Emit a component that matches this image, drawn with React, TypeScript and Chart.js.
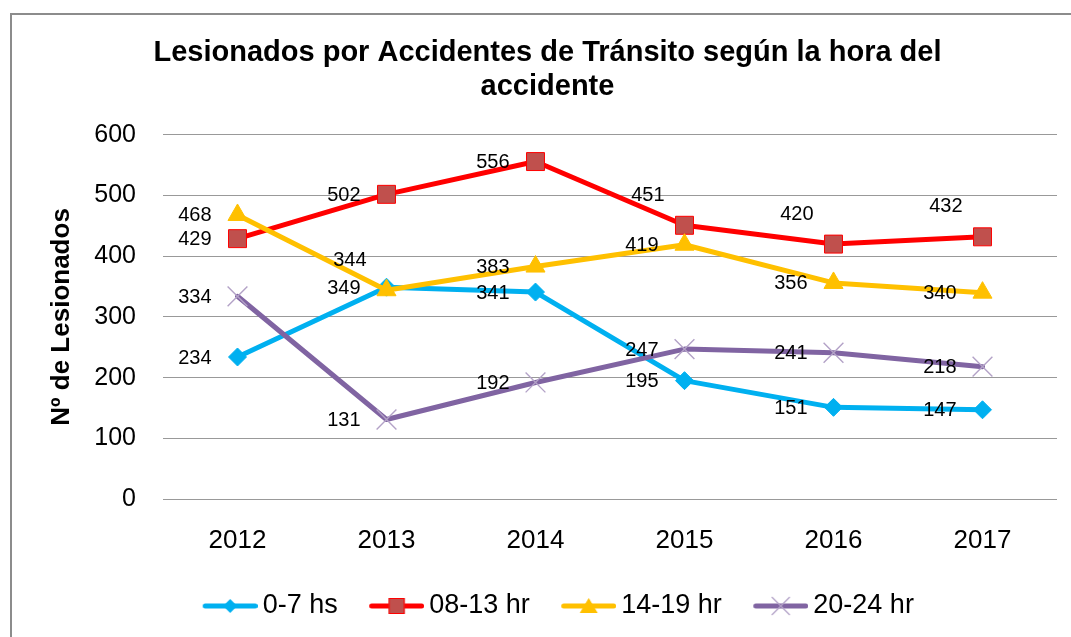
import { useEffect, useRef } from 'react';
import { Chart, registerables } from 'chart.js';

Chart.register(...registerables);

// ---- data ----
const years = ['2012', '2013', '2014', '2015', '2016', '2017'];
const h0to7 = [234, 349, 341, 195, 151, 147];
const h8to13 = [429, 502, 556, 451, 420, 432];
const h14to19 = [468, 344, 383, 419, 356, 340];
const h20to24 = [334, 131, 192, 247, 241, 218];
const seriesNames = ['0-7 hs', '08-13 hr', '14-19 hr', '20-24 hr'];
const titleLines = ['Lesionados por Accidentes de Tránsito según la hora del', 'accidente'];
const yAxisTitle = 'Nº de Lesionados';
const yMin = 0;
const yMax = 600;
const yStep = 100;

// labels that sit above-left of their point instead of left: [series, point]
const raisedLabels: [number, number][] = [[2, 1], [1, 3], [1, 4], [1, 5]];

const FONT = 'Arial, "Liberation Sans", sans-serif';

const colors = {
  blue: '#00B0F0',
  red: '#FF0000',
  redFill: '#C0504D',
  yellow: '#FFC000',
  purple: '#8064A2',
  purpleMarker: '#B3A2C7',
};

function legendSymbol(kind: string, lineColor: string): HTMLCanvasElement {
  const c = document.createElement('canvas');
  c.width = 85;
  c.height = 28;
  const ctx = c.getContext('2d')!;
  const y = 14;
  const x0 = 30;
  const x1 = 85;
  ctx.lineCap = 'round';
  ctx.strokeStyle = lineColor;
  ctx.lineWidth = 5;
  ctx.beginPath();
  ctx.moveTo(x0 + 2.5, y);
  ctx.lineTo(x1 - 2.5, y);
  ctx.stroke();
  const cx = (x0 + x1) / 2;
  ctx.lineCap = 'butt';
  if (kind === 'diamond') {
    ctx.fillStyle = colors.blue;
    ctx.beginPath();
    ctx.moveTo(cx - 7, y);
    ctx.lineTo(cx, y - 7);
    ctx.lineTo(cx + 7, y);
    ctx.lineTo(cx, y + 7);
    ctx.closePath();
    ctx.fill();
  } else if (kind === 'square') {
    ctx.fillStyle = colors.redFill;
    ctx.fillRect(cx - 8, y - 8, 16, 16);
    ctx.strokeStyle = colors.red;
    ctx.lineWidth = 1;
    ctx.strokeRect(cx - 8 + 0.5, y - 8 + 0.5, 15, 15);
  } else if (kind === 'triangle') {
    ctx.fillStyle = colors.yellow;
    ctx.beginPath();
    ctx.moveTo(cx, y - 8);
    ctx.lineTo(cx + 9, y + 7);
    ctx.lineTo(cx - 9, y + 7);
    ctx.closePath();
    ctx.fill();
  } else {
    ctx.strokeStyle = colors.purpleMarker;
    ctx.lineWidth = 1.3;
    ctx.beginPath();
    ctx.moveTo(cx - 9, y - 9);
    ctx.lineTo(cx + 9, y + 9);
    ctx.moveTo(cx + 9, y - 9);
    ctx.lineTo(cx - 9, y + 9);
    ctx.stroke();
  }
  return c;
}

const pointLabelPlugin = {
  id: 'pointLabels',
  afterDatasetsDraw(chart: any) {
    const ctx = chart.ctx;
    ctx.save();
    ctx.font = `20px ${FONT}`;
    ctx.fillStyle = '#000';
    ctx.textAlign = 'right';
    ctx.textBaseline = 'middle';
    chart.data.datasets.forEach((ds: any, di: number) => {
      const meta = chart.getDatasetMeta(di);
      meta.data.forEach((pt: any, i: number) => {
        const raised = raisedLabels.some(([a, b]) => a === di && b === i);
        const dx = raised ? 20 : 26;
        const dy = raised ? -30 : 1;
        ctx.fillText(String(ds.data[i]), pt.x - dx, pt.y + dy);
      });
    });
    ctx.restore();
  },
};

export default function App() {
  const ref = useRef<HTMLCanvasElement | null>(null);

  useEffect(() => {
    if (!ref.current) return;
    const legendImgs = [
      legendSymbol('diamond', colors.blue),
      legendSymbol('square', colors.red),
      legendSymbol('triangle', colors.yellow),
      legendSymbol('cross', colors.purple),
    ];
    const common = {
      borderWidth: 5,
      tension: 0,
      fill: false,
      borderJoinStyle: 'round' as const,
      borderCapStyle: 'round' as const,
    };
    const chart = new Chart(ref.current, {
      type: 'line',
      data: {
        labels: years,
        datasets: [
          {
            ...common,
            label: seriesNames[0],
            data: h0to7,
            borderColor: colors.blue,
            backgroundColor: colors.blue,
            pointStyle: 'rectRot',
            pointRadius: 9,
            pointBackgroundColor: colors.blue,
            pointBorderColor: colors.blue,
            pointBorderWidth: 1,
            order: 4,
          },
          {
            ...common,
            label: seriesNames[1],
            data: h8to13,
            borderColor: colors.red,
            backgroundColor: colors.redFill,
            pointStyle: 'rect',
            pointRadius: 12.7,
            pointBackgroundColor: colors.redFill,
            pointBorderColor: colors.red,
            pointBorderWidth: 1,
            order: 3,
          },
          {
            ...common,
            label: seriesNames[2],
            data: h14to19,
            borderColor: colors.yellow,
            backgroundColor: colors.yellow,
            pointStyle: 'triangle',
            pointRadius: 11,
            pointBackgroundColor: colors.yellow,
            pointBorderColor: colors.yellow,
            pointBorderWidth: 1,
            order: 2,
          },
          {
            ...common,
            label: seriesNames[3],
            data: h20to24,
            borderColor: colors.purple,
            backgroundColor: colors.purple,
            pointStyle: 'crossRot',
            pointRadius: 14,
            pointBorderColor: colors.purpleMarker,
            pointBorderWidth: 1.4,
            order: 1,
          },
        ],
      },
      options: {
        responsive: false,
        animation: false,
        devicePixelRatio: 1,
        layout: { padding: { left: 0, right: 0, top: 0, bottom: 7.5 } },
        font: { family: FONT },
        scales: {
          x: {
            type: 'category',
            offset: true,
            grid: { display: false, drawTicks: false },
            border: { display: false },
            ticks: {
              color: '#000',
              font: { family: FONT, size: 26 },
              padding: 26,
              maxRotation: 0,
            },
            afterFit: (s: any) => {
              s.height = 83.5;
            },
          },
          y: {
            type: 'linear',
            min: yMin,
            max: yMax,
            grid: { color: '#999999', lineWidth: 1, drawTicks: false },
            border: { display: false },
            ticks: {
              stepSize: yStep,
              color: '#000',
              font: { family: FONT, size: 25 },
              padding: 27,
            },
            title: {
              display: true,
              text: yAxisTitle,
              color: '#000',
              font: { family: FONT, size: 26, weight: 'bold' },
              padding: { top: 46, bottom: 0 },
            },
            afterFit: (s: any) => {
              s.width = 163;
            },
          },
          yRight: {
            type: 'linear',
            position: 'right',
            display: true,
            grid: { display: false, drawTicks: false },
            border: { display: false },
            ticks: { display: false },
            afterFit: (s: any) => {
              s.width = 38;
            },
          },
        },
        plugins: {
          title: {
            display: true,
            text: titleLines,
            color: '#000',
            font: { family: FONT, size: 29, weight: 'bold', lineHeight: 1.17 },
            padding: { top: 36, bottom: 31 },
          },
          legend: {
            display: true,
            position: 'bottom',
            labels: {
              usePointStyle: true,
              pointStyleWidth: 68,
              padding: 10,
              color: '#000',
              font: { family: FONT, size: 27 },
              sort: (a: any, b: any) => a.datasetIndex - b.datasetIndex,
              generateLabels: (ch: any) => {
                const items = (Chart.defaults.plugins.legend.labels as any).generateLabels(ch);
                return items.map((it: any) => ({ ...it, pointStyle: legendImgs[it.datasetIndex] }));
              },
            },
          },
          tooltip: { enabled: false },
        },
      } as any,
      plugins: [pointLabelPlugin],
    });
    return () => chart.destroy();
  }, []);

  return (
    <div
      style={{
        position: 'fixed',
        left: 0,
        top: 0,
        width: 1071,
        height: 637,
        overflow: 'hidden',
        background: '#fff',
      }}
    >
      <div
        style={{
          position: 'absolute',
          left: 10,
          top: 13,
          width: 1200,
          height: 800,
          borderLeft: '2px solid #8c8c8c',
          borderTop: '2px solid #8c8c8c',
        }}
      />
      <canvas
        ref={ref}
        width={1095}
        height={637}
        style={{ position: 'absolute', left: 0, top: 0 }}
      />
    </div>
  );
}
